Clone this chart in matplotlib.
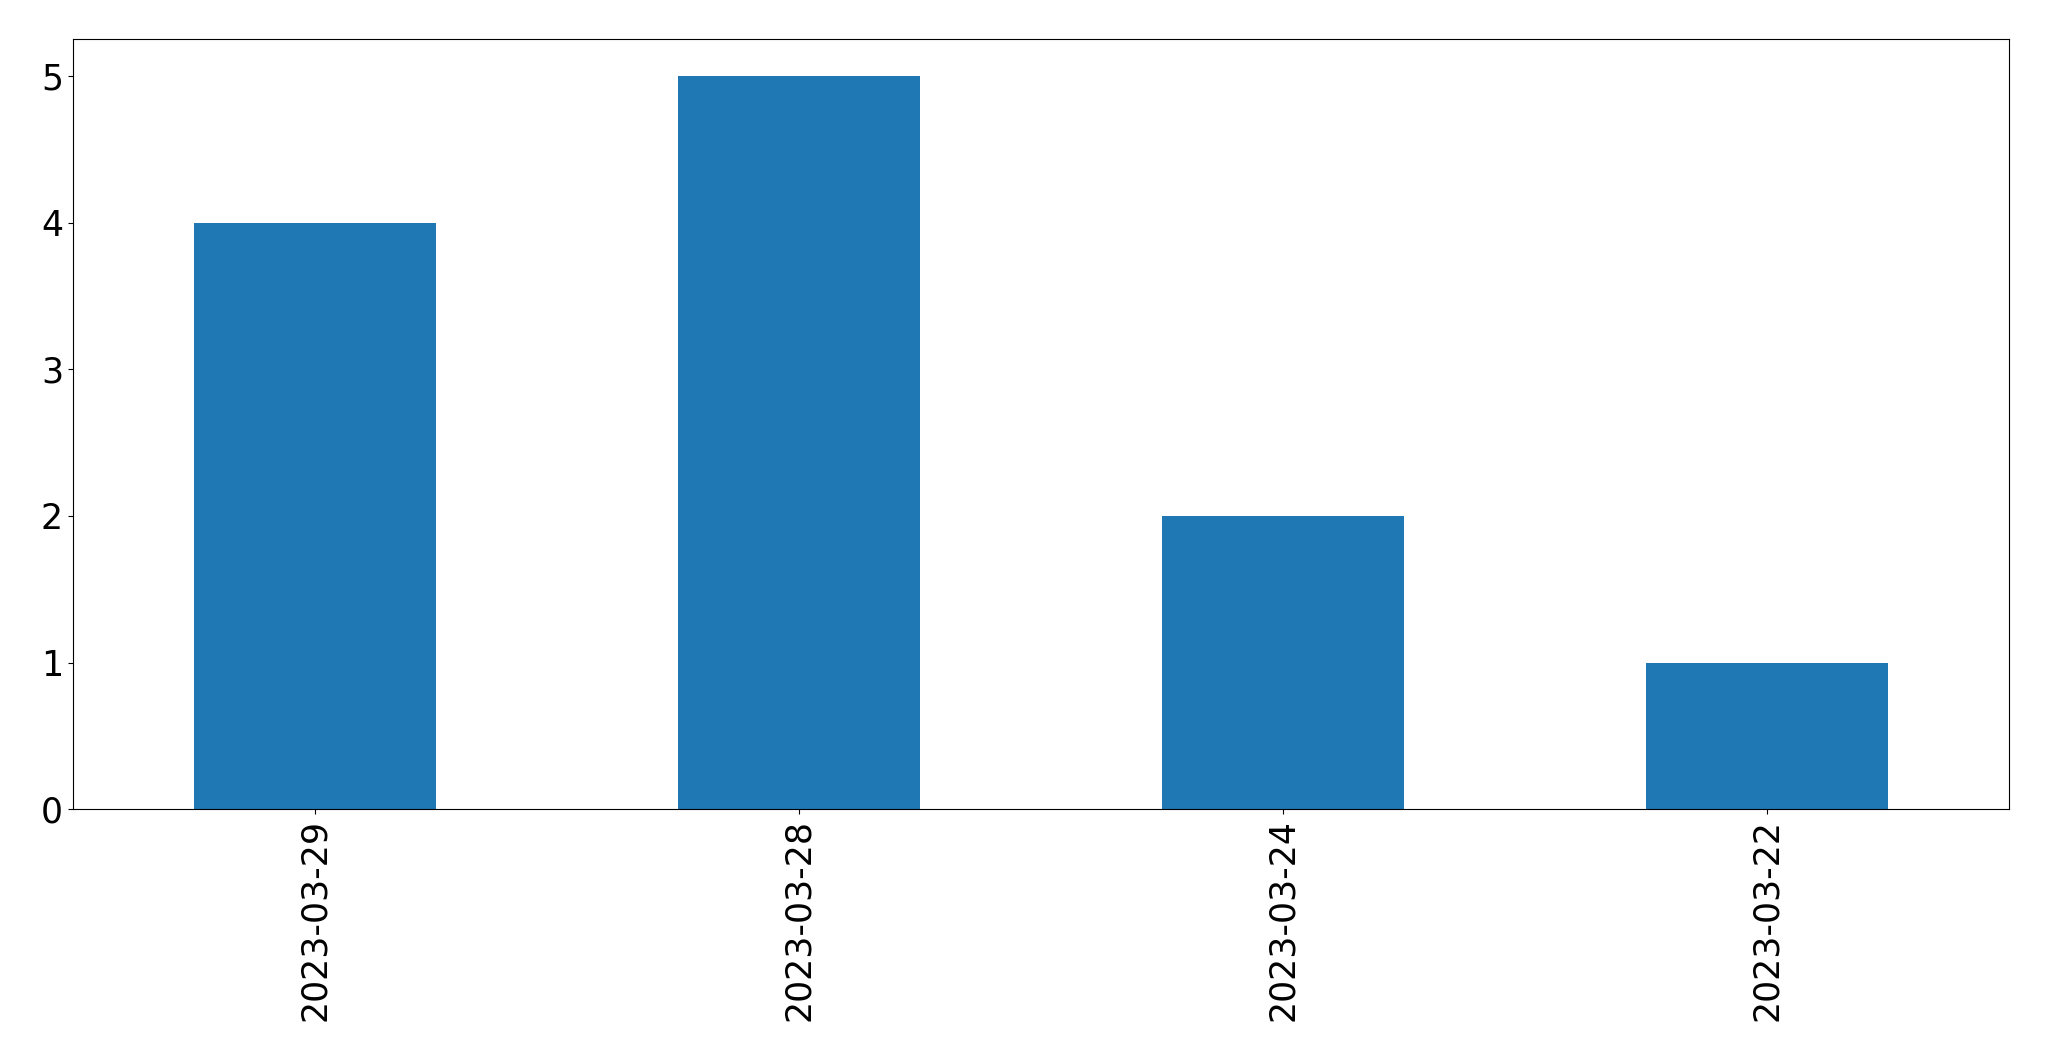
import matplotlib
matplotlib.use("Agg")
import matplotlib.pyplot as plt
import pandas as pd

# --- data ------------------------------------------------------------------
dates = ["2023-03-29", "2023-03-28", "2023-03-24", "2023-03-22"]
counts = [4, 5, 2, 1]

series = pd.Series(counts, index=dates)

fig = plt.figure(figsize=(20.49, 10.61), dpi=100)
ax = fig.add_axes([72.7 / 2049, 1 - 809.3 / 1061,
                   (2009.3 - 72.7) / 2049, (809.3 - 39.3) / 1061])
series.plot(kind="bar", ax=ax, color="#1f77b4")
ax.tick_params(axis="both", labelsize=25)

fig.savefig("out.png", dpi=100)
